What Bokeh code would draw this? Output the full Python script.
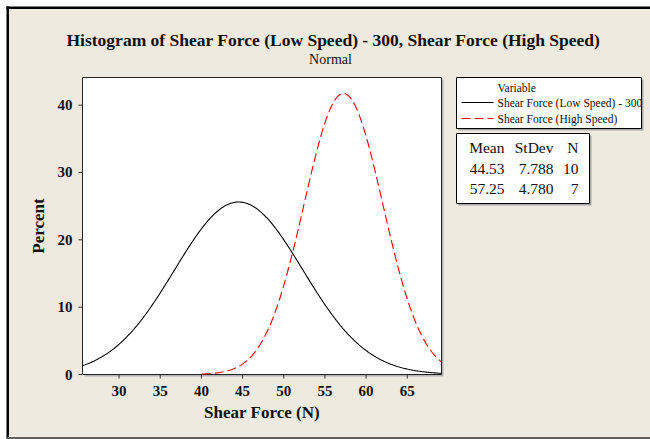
import numpy as np
from bokeh.plotting import figure
from bokeh.models import Range1d
from bokeh.embed import file_html
from bokeh.resources import INLINE

# ---- data -------------------------------------------------------------
title_text = "Histogram of Shear Force (Low Speed) - 300, Shear Force (High Speed)"
subtitle_text = "Normal"
legend_title = "Variable"
variables = ["Shear Force (Low Speed) - 300", "Shear Force (High Speed)"]
means = [44.53, 57.25]
stdevs = [7.788, 4.780]
counts = [10, 7]
table_header = ["Mean", "StDev", "N"]
bin_width = 5.0                      # histogram bin width, percent scaling
x_ticks = [30, 35, 40, 45, 50, 55, 60, 65]
y_ticks = [0, 10, 20, 30, 40]
x_label = "Shear Force (N)"
y_label = "Percent"
x_lim = (25.56, 69.16)
y_lim = (0.0, 44.1)
tail_sd = 3.6                        # fitted curve spans mean +/- tail_sd * sd

# ---- styling ----------------------------------------------------------
FONT = "Liberation Serif"
BG = "#EEEAE0"
INK = "#111111"
line_colors = ["black", "#FF0000"]
line_dashes = ["solid", "9 4"]

# canvas size and the data area inside it (pixels, y downward)
CW, CH = 650, 439
FL, FT, FW, FH = 82, 77, 359, 297
FR, FB = FL + FW, FT + FH

# The canvas is addressed in pixels (default ranges); the chart data lives
# on extra ranges "fx"/"fy" laid out so that x_lim/y_lim fill the data area.
sx = x_lim[1] - x_lim[0]
sy = y_lim[1] - y_lim[0]
fx = Range1d(x_lim[0] - FL / FW * sx, x_lim[0] + (CW - FL) / FW * sx)
fy = Range1d(y_lim[1] - (CH - FT) / FH * sy, y_lim[1] + FT / FH * sy)

p = figure(width=CW, height=CH, min_border=0,
           x_range=Range1d(0, CW), y_range=Range1d(CH, 0),
           x_axis_location=None, y_axis_location=None,
           output_backend="svg", toolbar_location=None)
p.extra_x_ranges = {"fx": fx}
p.extra_y_ranges = {"fy": fy}
p.grid.visible = False
p.outline_line_color = None
p.background_fill_color = "white"
p.border_fill_color = "white"

# graph window with its border
p.quad(left=6, right=CW, top=6, bottom=CH, fill_color=BG, line_color=None)
p.quad(left=6, right=8.5, top=6, bottom=CH, fill_color="black", line_color=None)
p.quad(left=6, right=CW, top=6, bottom=8.5, fill_color="black", line_color=None)
p.quad(left=6, right=CW, top=436.5, bottom=CH, fill_color="#606060", line_color=None)

# data area: shadow, white fill, outline
p.quad(left=FL + 2, right=FR + 2, top=FT + 2, bottom=FB + 2,
       fill_color="#B4B4B4", line_color=None)
p.quad(left=[x_lim[0]], right=[x_lim[1]], bottom=[y_lim[0]], top=[y_lim[1]],
       x_range_name="fx", y_range_name="fy",
       fill_color="white", line_color="#222222", line_width=1)

# fitted normal curves, scaled to percent per bin
for m, s, col, dash in zip(means, stdevs, line_colors, line_dashes):
    xs = np.linspace(max(x_lim[0], m - tail_sd * s),
                     min(x_lim[1], m + tail_sd * s), 400)
    ys = 100.0 * bin_width * np.exp(-0.5 * ((xs - m) / s) ** 2) / (s * np.sqrt(2 * np.pi))
    p.line(xs, ys, x_range_name="fx", y_range_name="fy",
           line_color=col, line_width=1.1, line_dash=dash)

# x axis: ticks and labels positioned by the data scale
nx = len(x_ticks)
p.segment(x0=x_ticks, x1=x_ticks, y0=[FB] * nx, y1=[FB + 4] * nx,
          x_range_name="fx", line_color="#333333", line_width=1)
p.text(x=x_ticks, y=[390] * nx, text=[str(t) for t in x_ticks],
       x_range_name="fx", text_align="center", text_baseline="middle",
       text_font={"value": FONT}, text_font_style="bold",
       text_font_size="15px", text_color=INK)
p.text(x=[(FL + FR) / 2], y=[411.5], text=[x_label], text_align="center",
       text_baseline="middle", text_font={"value": FONT},
       text_font_style="bold", text_font_size="17px", text_color=INK)

# y axis
ny = len(y_ticks)
p.segment(x0=[FL - 4] * ny, x1=[FL] * ny, y0=y_ticks, y1=y_ticks,
          y_range_name="fy", line_color="#333333", line_width=1)
p.text(x=[72] * ny, y=y_ticks, text=[str(t) for t in y_ticks],
       y_range_name="fy", text_align="right", text_baseline="middle",
       text_font={"value": FONT}, text_font_style="bold",
       text_font_size="15px", text_color=INK)
p.text(x=[38], y=[(FT + FB) / 2], text=[y_label], angle=np.pi / 2,
       text_align="center", text_baseline="middle", text_font={"value": FONT},
       text_font_style="bold", text_font_size="17px", text_color=INK)

# titles
p.text(x=[333], y=[39], text=[title_text], text_align="center",
       text_baseline="middle", text_font={"value": FONT},
       text_font_style="bold", text_font_size="17.5px", text_color=INK)
p.text(x=[330], y=[59], text=[subtitle_text], text_align="center",
       text_baseline="middle", text_font={"value": FONT},
       text_font_size="14px", text_color=INK)

# variable legend
p.quad(left=458, right=643, top=79, bottom=130, fill_color="#A8A8A8", line_color=None)
p.quad(left=456, right=641, top=77, bottom=128, fill_color="white",
       line_color="black", line_width=1)
p.text(x=[497], y=[87], text=[legend_title], text_align="left",
       text_baseline="middle", text_font={"value": FONT},
       text_font_size="11.5px", text_color=INK)
for ry, name, col, dash in zip([102, 118], variables, line_colors, line_dashes):
    p.line([461, 493], [ry, ry], line_color=col, line_width=1.1, line_dash=dash)
    p.text(x=[497], y=[ry], text=[name], text_align="left",
           text_baseline="middle", text_font={"value": FONT},
           text_font_size="11.5px", text_color=INK)

# summary statistics table
p.quad(left=458, right=591, top=135, bottom=205, fill_color="#A8A8A8", line_color=None)
p.quad(left=456, right=589, top=133, bottom=203, fill_color="white",
       line_color="black", line_width=1)
col_right = [504, 553, 578]
row_y = [147, 168, 188]
cells = [table_header] + [[f"{m:.2f}", f"{s:.3f}", f"{n}"]
                          for m, s, n in zip(means, stdevs, counts)]
for ry, row in zip(row_y, cells):
    p.text(x=col_right, y=[ry] * len(row), text=row, text_align="right",
           text_baseline="middle", text_font={"value": FONT},
           text_font_size="15.5px", text_color=INK)

open("out.html", "w").write(file_html(p, INLINE))
